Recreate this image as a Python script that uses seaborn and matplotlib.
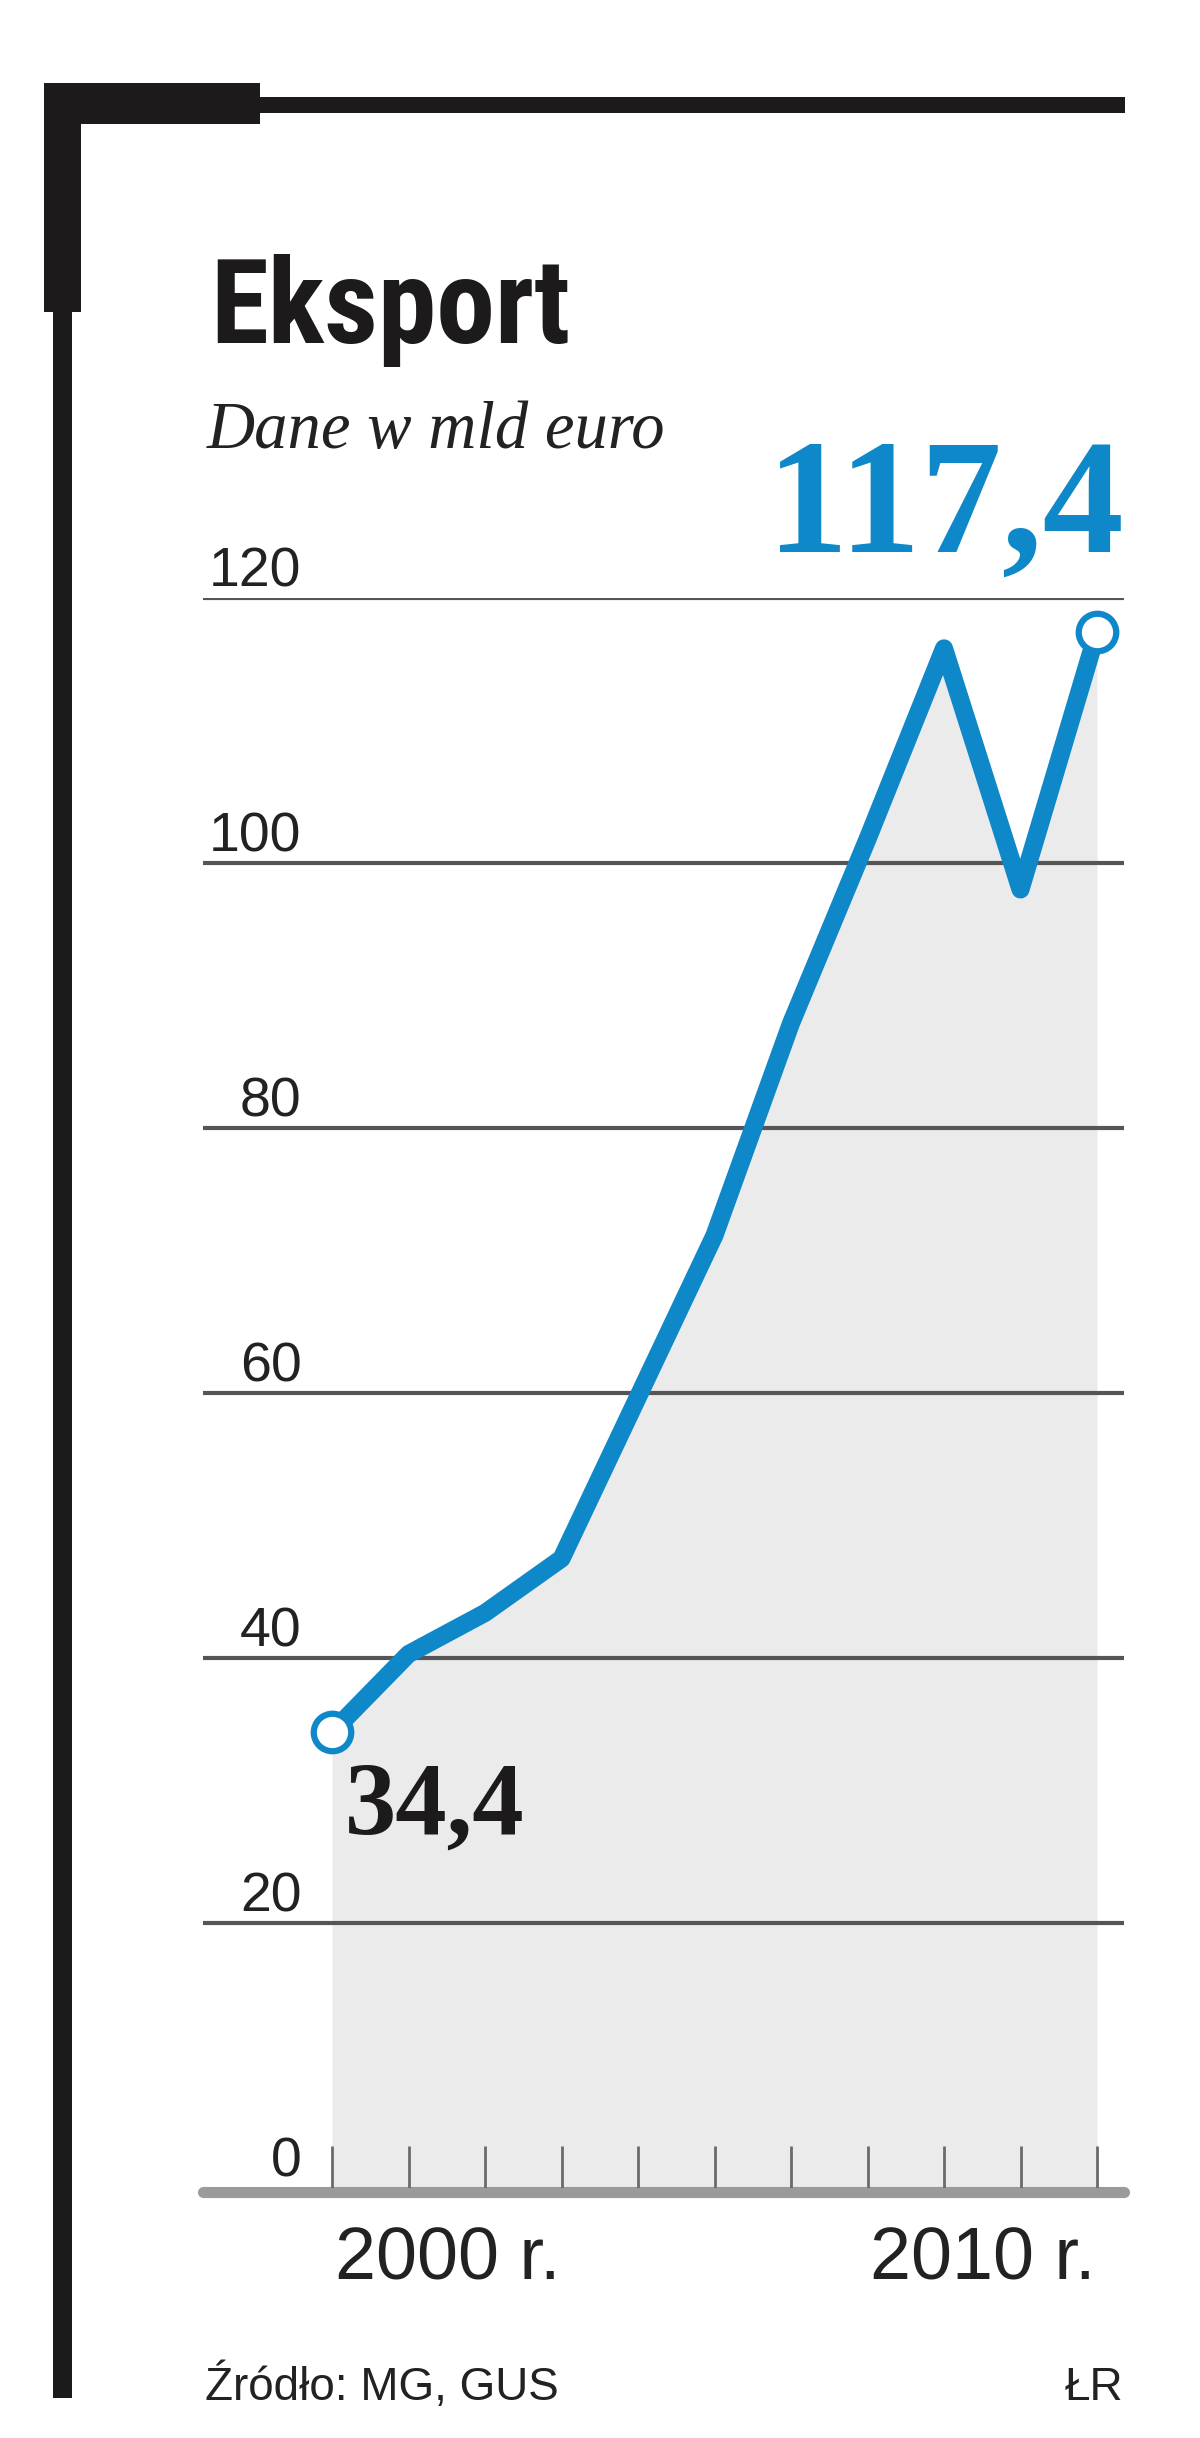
"""
Eksport (2000-2010), mld euro - line chart with grey area.
"""
import matplotlib.pyplot as plt
import seaborn as sns
from matplotlib import font_manager
from matplotlib.patches import Rectangle

YEARS = [2000, 2001, 2002, 2003, 2004, 2005, 2006, 2007, 2008, 2009, 2010]
EXPORT = [34.4, 40.3, 43.4, 47.5, 59.7, 71.9, 87.9, 101.8, 116.2, 98.0, 117.4]
Y_TICKS = [0, 20, 40, 60, 80, 100, 120]
X_LABELS = {2000: "2000 r.", 2010: "2010 r."}

TITLE = "Eksport"
SUBTITLE = "Dane w mld euro"
SOURCE = "Źródło: MG, GUS"
AUTHOR = "ŁR"

BLUE = "#0e88c8"
DARK = "#1c1a1b"
FILL = "#ebebeb"

W, H = 1200, 2438
DPI = 100

sns.set_theme(style="white")
plt.rcParams["font.family"] = ["Liberation Sans", "DejaVu Sans"]

# pick a condensed heavy face for the title if one is installed
_installed = {f.name for f in font_manager.fontManager.ttflist}
TITLE_FONT, TITLE_WEIGHT = "Liberation Sans", "bold"
for fam, wt in [("Liberation Sans Narrow", "bold"), ("Roboto Condensed", "bold"),
                ("Lato", "black"), ("Roboto", "black")]:
    if fam in _installed:
        TITLE_FONT, TITLE_WEIGHT = fam, wt
        break


def fx(px):
    return px / W


def fy(py):
    return 1 - py / H


def main():
    fig = plt.figure(figsize=(W / DPI, H / DPI), dpi=DPI)
    fig.patch.set_facecolor("white")

    # frame: black bracket top-left
    for x0, y0, x1, y1 in [(44, 83, 260, 124), (260, 97, 1125, 113),
                           (44, 83, 81, 312), (53, 312, 72, 2398)]:
        fig.patches.append(Rectangle((fx(x0), fy(y1)), fx(x1 - x0), (y1 - y0) / H,
                                     transform=fig.transFigure, color=DARK, lw=0))

    # plot area: x 203..1124 px, y 0 -> 2188 px, 120 -> 598 px
    left, right = 203, 1124
    ax = fig.add_axes([fx(left), fy(2188), fx(right - left), (2188 - 598) / H])
    px_per_year = (1097 - 332) / 10
    ax.set_xlim(2000 - (332 - left) / px_per_year, 2010 + (right - 1097) / px_per_year)
    ax.set_ylim(0, 120)
    ax.set_axis_off()

    ax.fill_between(YEARS, 0, EXPORT, color=FILL, lw=0, zorder=1)
    for v in Y_TICKS[1:]:
        ax.axhline(v, color="#555555", lw=3, zorder=2)
    ax.axhline(-0.3, color="#9a9a9a", lw=8, zorder=3, clip_on=False)
    ax.vlines(YEARS, 0, 3.2, color="#6a6a6a", lw=2, zorder=3)

    sns.lineplot(x=YEARS, y=EXPORT, ax=ax, color=BLUE, lw=13, zorder=5,
                 legend=False)
    ends = [0, len(YEARS) - 1]
    ax.plot([YEARS[i] for i in ends], [EXPORT[i] for i in ends], "o", ms=27,
            mfc="white", mec=BLUE, mew=4.5, zorder=6, clip_on=False)

    # y labels sit above the gridlines
    for v in Y_TICKS:
        ax.annotate(str(v), xy=(0, v), xycoords=("axes fraction", "data"),
                    xytext=(71, 8), textcoords="offset points", ha="right",
                    va="baseline", fontsize=40, color="#222222")

    for yr, lab in X_LABELS.items():
        ax.annotate(lab, xy=(yr, 0), xycoords="data",
                    xytext=(2 if yr == 2000 else -1, -66), textcoords="offset points",
                    ha="left" if yr == 2000 else "right", va="baseline",
                    fontsize=53, color="#222222", annotation_clip=False)

    # value callouts
    ax.annotate(f"{EXPORT[0]:.1f}".replace(".", ","), xy=(YEARS[0], EXPORT[0]),
                xytext=(9, -73), textcoords="offset points", ha="left",
                va="baseline", fontsize=74, fontweight="bold",
                family=["Liberation Serif", "DejaVu Serif"], color=DARK)
    ax.annotate(f"{EXPORT[-1]:.1f}".replace(".", ","), xy=(YEARS[-1], EXPORT[-1]),
                xytext=(19, 58), textcoords="offset points", ha="right",
                va="baseline", fontsize=117, fontweight="bold",
                family=["Liberation Serif", "DejaVu Serif"], color=BLUE,
                annotation_clip=False)

    title = fig.text(fx(210), fy(343), TITLE, fontsize=85, fontweight=TITLE_WEIGHT,
                     family=TITLE_FONT, color=DARK, va="baseline", ha="left")
    # keep the title inside the reference width (about 365 px)
    renderer = fig.canvas.get_renderer()
    width = title.get_window_extent(renderer).width
    if width > 365:
        title.set_fontsize(85 * 365 / width)

    fig.text(fx(207), fy(448), SUBTITLE, fontsize=48, style="italic",
             family=["Liberation Serif", "DejaVu Serif"], color="#222222",
             va="baseline", ha="left")
    fig.text(fx(205), fy(2400), SOURCE, fontsize=33, color="#222222",
             va="baseline", ha="left")
    fig.text(fx(1123), fy(2400), AUTHOR, fontsize=33, color="#222222",
             va="baseline", ha="right")

    fig.savefig("out.png", dpi=DPI, facecolor="white")
    plt.close(fig)


if __name__ == "__main__":
    main()
